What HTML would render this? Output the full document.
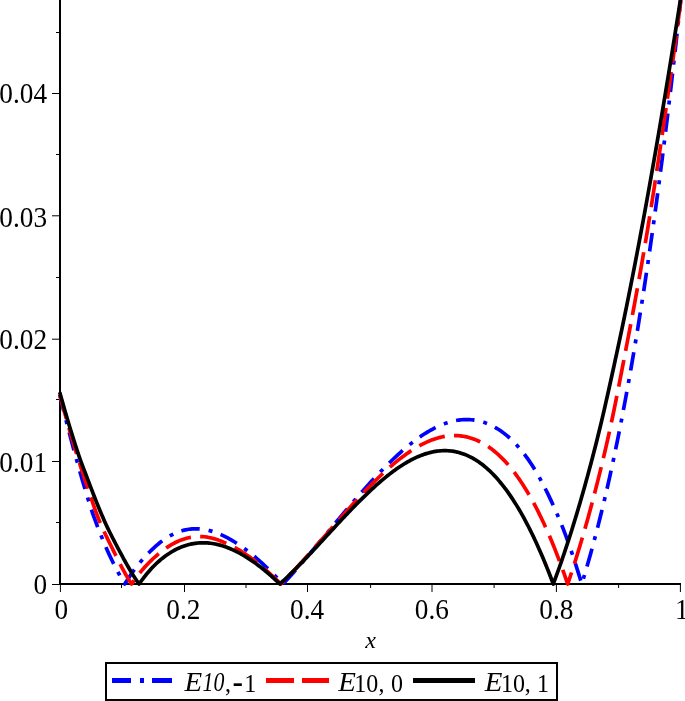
<!DOCTYPE html>
<html><head><meta charset="utf-8"><title>plot</title><style>html,body{margin:0;padding:0;background:#fff}svg{display:block}.t{font-family:"Liberation Serif","Times New Roman",serif}</style></head><body>
<svg width="685" height="701" viewBox="0 0 685 701">
<rect width="685" height="701" fill="#fff"/>
<g stroke="#000" fill="none">
<line x1="60" y1="0" x2="60" y2="585" stroke-width="2"/>
<line x1="59" y1="584" x2="681" y2="584" stroke-width="2"/>
<path d="M60.40,585 v7 M121.50,585 v3 M184.50,585 v7 M246.00,585 v3 M307.50,585 v7 M370.60,585 v3 M432.00,585 v7 M494.10,585 v3 M556.40,585 v7 M618.60,585 v3 M680.40,585 v7 M59,584.50 h-7 M59,522.50 h-3 M59,461.50 h-7 M59,399.50 h-3 M59,339.20 h-7 M59,277.50 h-3 M59,215.80 h-7 M59,154.50 h-3 M59,93.50 h-7 M59,32.50 h-3" stroke-width="1"/>
</g>
<g fill="none" stroke-width="3.7" stroke-linejoin="round">
<path d="M59.78,394.92 L60.20,396.62 L61.73,402.85 L63.24,408.99 L64.75,415.03 L66.26,420.97 L67.75,426.82 L69.24,432.58 L70.73,438.24 L72.22,443.81 L73.70,449.29 L75.17,454.68 L76.63,459.97 L78.08,465.18 L79.52,470.29 L80.95,475.31 L82.38,480.25 L83.82,485.09 L85.25,489.85 L86.66,494.52 L88.07,499.11 L89.47,503.60 L90.89,508.01 L92.33,512.34 L93.81,516.58 L95.32,520.74 L96.85,524.81 L98.38,528.80 L99.92,532.71 L101.46,536.53 L102.99,540.28 L104.54,543.94 L106.08,547.52 L107.63,551.03 L109.17,554.45 L110.73,557.80 L112.29,561.07 L113.87,564.26 L115.46,567.37 L117.06,570.41 L118.66,573.37 L120.27,576.26 L121.88,579.07 L123.49,581.81 L124.80,584.00 L125.09,583.52 L126.71,580.92 L128.33,578.40 L129.97,575.94 L131.61,573.55 L133.26,571.23 L134.92,568.98 L136.58,566.79 L138.24,564.68 L139.90,562.62 L141.57,560.64 L143.23,558.72 L144.89,556.86 L146.55,555.08 L148.20,553.35 L149.84,551.69 L151.47,550.09 L153.09,548.56 L154.70,547.09 L156.30,545.68 L157.88,544.33 L159.45,543.04 L161.00,541.82 L162.55,540.65 L164.10,539.54 L165.65,538.49 L167.20,537.49 L168.75,536.55 L170.30,535.67 L171.85,534.84 L173.40,534.07 L174.96,533.35 L176.51,532.68 L178.06,532.07 L179.61,531.51 L181.16,531.01 L182.71,530.56 L184.26,530.16 L185.81,529.81 L187.36,529.51 L188.91,529.26 L190.46,529.07 L192.01,528.92 L193.56,528.83 L195.12,528.78 L196.67,528.78 L198.22,528.84 L199.77,528.94 L201.32,529.08 L202.87,529.27 L204.42,529.51 L205.97,529.79 L207.52,530.12 L209.07,530.49 L210.62,530.90 L212.17,531.35 L213.72,531.84 L215.27,532.37 L216.83,532.94 L218.38,533.55 L219.93,534.19 L221.48,534.87 L223.03,535.58 L224.58,536.33 L226.13,537.11 L227.68,537.93 L229.23,538.77 L230.78,539.65 L232.33,540.56 L233.88,541.50 L235.43,542.46 L236.99,543.45 L238.54,544.47 L240.09,545.52 L241.64,546.59 L243.19,547.69 L244.74,548.82 L246.29,549.98 L247.84,551.16 L249.39,552.37 L250.94,553.61 L252.49,554.87 L254.04,556.15 L255.59,557.46 L257.15,558.79 L258.70,560.15 L260.25,561.53 L261.80,562.93 L263.35,564.35 L264.90,565.79 L266.45,567.26 L268.00,568.74 L269.55,570.24 L271.10,571.76 L272.65,573.30 L274.20,574.86 L275.75,576.43 L277.31,578.02 L278.86,579.63 L280.41,581.25 L281.96,582.89 L283.00,584.00 L283.51,583.46 L285.06,581.79 L286.61,580.11 L288.16,578.42 L289.71,576.71 L291.26,574.99 L292.81,573.26 L294.36,571.52 L295.91,569.77 L297.46,568.00 L299.02,566.23 L300.57,564.45 L302.12,562.66 L303.67,560.86 L305.22,559.05 L306.77,557.24 L308.32,555.42 L309.87,553.59 L311.42,551.76 L312.97,549.92 L314.52,548.08 L316.07,546.23 L317.62,544.38 L319.18,542.52 L320.73,540.67 L322.28,538.81 L323.83,536.94 L325.38,535.08 L326.93,533.22 L328.48,531.35 L330.03,529.49 L331.58,527.62 L333.13,525.76 L334.68,523.90 L336.23,522.04 L337.78,520.18 L339.33,518.33 L340.89,516.48 L342.44,514.63 L343.99,512.79 L345.54,510.95 L347.09,509.12 L348.64,507.29 L350.19,505.47 L351.74,503.65 L353.29,501.84 L354.84,500.04 L356.39,498.25 L357.94,496.47 L359.49,494.69 L361.05,492.93 L362.60,491.17 L364.15,489.43 L365.70,487.69 L367.25,485.97 L368.80,484.26 L370.35,482.56 L371.90,480.87 L373.45,479.20 L375.00,477.54 L376.55,475.89 L378.10,474.26 L379.65,472.64 L381.21,471.04 L382.76,469.45 L384.31,467.88 L385.86,466.32 L387.41,464.77 L388.96,463.24 L390.51,461.73 L392.06,460.24 L393.61,458.76 L395.16,457.30 L396.71,455.86 L398.26,454.44 L399.81,453.03 L401.37,451.65 L402.92,450.29 L404.47,448.96 L406.02,447.64 L407.57,446.35 L409.12,445.08 L410.67,443.83 L412.22,442.61 L413.77,441.42 L415.32,440.25 L416.87,439.10 L418.42,437.99 L419.97,436.90 L421.52,435.84 L423.08,434.81 L424.63,433.81 L426.18,432.84 L427.73,431.90 L429.28,430.99 L430.83,430.11 L432.38,429.26 L433.93,428.44 L435.48,427.66 L437.03,426.90 L438.58,426.18 L440.13,425.49 L441.68,424.83 L443.24,424.21 L444.79,423.62 L446.34,423.07 L447.89,422.56 L449.44,422.09 L450.99,421.65 L452.54,421.25 L454.09,420.89 L455.64,420.57 L457.19,420.30 L458.74,420.06 L460.29,419.87 L461.84,419.73 L463.39,419.62 L464.95,419.56 L466.50,419.55 L468.05,419.58 L469.61,419.65 L471.17,419.76 L472.73,419.92 L474.29,420.13 L475.86,420.38 L477.42,420.67 L478.99,421.02 L480.56,421.41 L482.13,421.85 L483.70,422.34 L485.27,422.87 L486.84,423.46 L488.41,424.10 L489.98,424.79 L491.55,425.53 L493.12,426.32 L494.69,427.16 L496.26,428.06 L497.83,429.02 L499.40,430.02 L500.97,431.09 L502.54,432.21 L504.11,433.38 L505.68,434.62 L507.25,435.91 L508.81,437.26 L510.37,438.67 L511.94,440.14 L513.50,441.67 L515.06,443.26 L516.61,444.92 L518.17,446.63 L519.72,448.41 L521.27,450.26 L522.82,452.18 L524.37,454.19 L525.92,456.27 L527.48,458.43 L529.03,460.66 L530.58,462.97 L532.13,465.36 L533.68,467.83 L535.23,470.37 L536.78,472.98 L538.33,475.67 L539.88,478.44 L541.43,481.28 L542.98,484.19 L544.53,487.18 L546.08,490.24 L547.64,493.37 L549.19,496.57 L550.74,499.85 L552.29,503.20 L553.84,506.63 L555.39,510.12 L556.94,513.68 L558.49,517.32 L560.04,521.03 L561.59,524.81 L563.12,528.68 L564.65,532.63 L566.16,536.68 L567.66,540.81 L569.17,545.04 L570.66,549.35 L572.16,553.76 L573.66,558.26 L575.16,562.86 L576.67,567.55 L578.19,572.34 L579.71,577.23 L581.25,582.21 L581.80,584.00 L582.80,580.70 L584.36,575.51 L585.92,570.22 L587.48,564.83 L589.05,559.33 L590.62,553.73 L592.19,548.02 L593.76,542.20 L595.34,536.27 L596.91,530.24 L598.49,524.09 L600.07,517.82 L601.64,511.45 L603.22,504.96 L604.80,498.35 L606.37,491.62 L607.94,484.78 L609.51,477.81 L611.08,470.72 L612.65,463.51 L614.21,456.18 L615.77,448.72 L617.32,441.13 L618.87,433.41 L620.42,425.56 L621.97,417.58 L623.52,409.47 L625.07,401.23 L626.62,392.84 L628.17,384.32 L629.72,375.67 L631.27,366.87 L632.82,357.93 L634.37,348.84 L635.92,339.61 L637.47,330.24 L639.01,320.71 L640.56,311.04 L642.11,301.22 L643.66,291.24 L645.20,281.10 L646.75,270.81 L648.29,260.37 L649.84,249.76 L651.38,238.99 L652.93,228.06 L654.47,216.96 L656.01,205.70 L657.55,194.26 L659.09,182.66 L660.63,170.88 L662.17,158.93 L663.71,146.80 L665.25,134.50 L666.78,122.01 L668.32,109.35 L669.86,96.49 L671.39,83.46 L672.92,70.23 L674.45,56.82 L675.99,43.21 L677.52,29.41 L679.04,15.41 L680.57,1.22" stroke="#0000ff" stroke-dasharray="18.5 9 4 8.7" stroke-dashoffset="1.55"/>
<path d="M59.75,394.43 L60.20,396.12 L61.75,401.94 L63.30,407.67 L64.84,413.31 L66.39,418.87 L67.93,424.34 L69.47,429.73 L71.00,435.04 L72.54,440.26 L74.07,445.40 L75.60,450.46 L77.13,455.43 L78.66,460.32 L80.19,465.13 L81.71,469.86 L83.24,474.51 L84.76,479.08 L86.28,483.58 L87.78,487.99 L89.24,492.32 L90.66,496.58 L92.05,500.76 L93.43,504.86 L94.82,508.88 L96.24,512.83 L97.70,516.71 L99.22,520.51 L100.79,524.23 L102.40,527.88 L104.04,531.46 L105.69,534.97 L107.34,538.40 L108.99,541.76 L110.62,545.04 L112.21,548.26 L113.77,551.41 L115.30,554.48 L116.80,557.49 L118.27,560.43 L119.73,563.30 L121.18,566.10 L122.62,568.83 L124.06,571.49 L125.51,574.09 L126.97,576.63 L128.45,579.09 L129.95,581.49 L131.49,583.83 L131.60,584.00 L133.04,581.89 L134.62,579.68 L136.22,577.51 L137.83,575.41 L139.46,573.36 L141.10,571.37 L142.74,569.43 L144.40,567.56 L146.06,565.74 L147.72,563.97 L149.38,562.27 L151.05,560.62 L152.71,559.03 L154.36,557.50 L156.01,556.02 L157.65,554.61 L159.28,553.25 L160.90,551.95 L162.50,550.71 L164.08,549.52 L165.65,548.40 L167.20,547.33 L168.75,546.31 L170.30,545.34 L171.85,544.43 L173.40,543.57 L174.96,542.76 L176.51,541.99 L178.06,541.28 L179.61,540.62 L181.16,540.01 L182.71,539.45 L184.26,538.94 L185.81,538.48 L187.36,538.07 L188.91,537.71 L190.46,537.39 L192.01,537.13 L193.56,536.91 L195.12,536.74 L196.67,536.62 L198.22,536.55 L199.77,536.52 L201.32,536.55 L202.87,536.63 L204.42,536.77 L205.97,536.96 L207.52,537.20 L209.07,537.49 L210.62,537.82 L212.17,538.20 L213.72,538.63 L215.27,539.09 L216.83,539.59 L218.38,540.12 L219.93,540.70 L221.48,541.30 L223.03,541.93 L224.58,542.59 L226.13,543.28 L227.68,543.99 L229.23,544.72 L230.78,545.47 L232.33,546.26 L233.88,547.07 L235.43,547.92 L236.99,548.79 L238.54,549.70 L240.09,550.64 L241.64,551.60 L243.19,552.60 L244.74,553.62 L246.29,554.67 L247.84,555.74 L249.39,556.85 L250.94,557.97 L252.49,559.13 L254.04,560.31 L255.59,561.51 L257.15,562.73 L258.70,563.98 L260.25,565.25 L261.80,566.55 L263.35,567.86 L264.90,569.20 L266.45,570.56 L268.00,571.94 L269.55,573.33 L271.10,574.75 L272.65,576.18 L274.20,577.63 L275.75,579.10 L277.31,580.59 L278.86,582.09 L280.41,583.61 L280.80,584.00 L281.96,582.85 L283.51,581.30 L285.06,579.74 L286.61,578.16 L288.16,576.57 L289.71,574.96 L291.26,573.34 L292.81,571.70 L294.36,570.06 L295.91,568.40 L297.46,566.73 L299.02,565.06 L300.57,563.37 L302.12,561.67 L303.67,559.96 L305.22,558.25 L306.77,556.53 L308.32,554.80 L309.87,553.06 L311.42,551.32 L312.97,549.57 L314.52,547.82 L316.07,546.06 L317.62,544.29 L319.18,542.53 L320.73,540.76 L322.28,538.99 L323.83,537.21 L325.38,535.44 L326.93,533.66 L328.48,531.89 L330.03,530.11 L331.58,528.34 L333.13,526.56 L334.68,524.79 L336.23,523.02 L337.78,521.25 L339.33,519.49 L340.89,517.72 L342.44,515.97 L343.99,514.22 L345.54,512.47 L347.09,510.73 L348.64,509.00 L350.19,507.27 L351.74,505.55 L353.29,503.84 L354.84,502.14 L356.39,500.45 L357.94,498.76 L359.49,497.09 L361.05,495.43 L362.60,493.78 L364.15,492.14 L365.70,490.51 L367.25,488.89 L368.80,487.29 L370.35,485.71 L371.90,484.13 L373.45,482.58 L375.00,481.03 L376.55,479.51 L378.10,478.00 L379.65,476.51 L381.21,475.03 L382.76,473.58 L384.31,472.14 L385.86,470.72 L387.41,469.32 L388.96,467.94 L390.51,466.59 L392.06,465.25 L393.61,463.94 L395.16,462.64 L396.71,461.37 L398.26,460.13 L399.81,458.91 L401.37,457.71 L402.92,456.54 L404.47,455.39 L406.02,454.27 L407.57,453.18 L409.12,452.12 L410.67,451.08 L412.22,450.07 L413.77,449.09 L415.32,448.14 L416.87,447.21 L418.42,446.32 L419.97,445.46 L421.52,444.63 L423.08,443.84 L424.63,443.07 L426.18,442.34 L427.73,441.65 L429.28,440.98 L430.83,440.35 L432.38,439.76 L433.93,439.21 L435.48,438.69 L437.03,438.21 L438.58,437.77 L440.13,437.37 L441.68,437.00 L443.24,436.68 L444.79,436.39 L446.34,436.15 L447.89,435.95 L449.44,435.79 L450.99,435.67 L452.54,435.59 L454.09,435.56 L455.64,435.57 L457.19,435.62 L458.74,435.72 L460.29,435.86 L461.84,436.05 L463.39,436.28 L464.95,436.56 L466.50,436.88 L468.05,437.26 L469.60,437.68 L471.15,438.15 L472.70,438.66 L474.25,439.23 L475.80,439.84 L477.35,440.51 L478.90,441.23 L480.45,441.99 L482.00,442.81 L483.55,443.68 L485.11,444.60 L486.66,445.57 L488.21,446.60 L489.76,447.68 L491.31,448.82 L492.86,450.01 L494.41,451.25 L495.96,452.55 L497.51,453.91 L499.06,455.32 L500.61,456.79 L502.16,458.32 L503.71,459.91 L505.27,461.55 L506.82,463.26 L508.37,465.03 L509.92,466.86 L511.47,468.76 L513.02,470.71 L514.57,472.73 L516.12,474.81 L517.67,476.96 L519.22,479.17 L520.77,481.45 L522.32,483.79 L523.87,486.20 L525.42,488.67 L526.98,491.22 L528.53,493.83 L530.08,496.51 L531.63,499.26 L533.18,502.08 L534.73,504.97 L536.28,507.93 L537.83,510.96 L539.38,514.06 L540.93,517.24 L542.48,520.48 L544.03,523.80 L545.58,527.20 L547.14,530.67 L548.69,534.22 L550.24,537.84 L551.79,541.53 L553.34,545.31 L554.89,549.16 L556.44,553.09 L557.99,557.09 L559.54,561.18 L561.09,565.35 L562.64,569.59 L564.19,573.92 L565.74,578.33 L567.30,582.81 L567.70,584.00 L568.85,580.61 L570.40,575.96 L571.96,571.22 L573.52,566.40 L575.09,561.50 L576.65,556.51 L578.22,551.43 L579.79,546.27 L581.36,541.02 L582.93,535.68 L584.51,530.26 L586.08,524.75 L587.66,519.15 L589.23,513.46 L590.80,507.68 L592.38,501.81 L593.95,495.84 L595.52,489.79 L597.09,483.65 L598.66,477.41 L600.23,471.08 L601.79,464.65 L603.35,458.13 L604.91,451.52 L606.46,444.81 L608.01,438.00 L609.55,431.10 L611.06,424.10 L612.56,417.00 L614.04,409.80 L615.52,402.51 L617.00,395.11 L618.48,387.62 L619.96,380.02 L621.45,372.32 L622.96,364.53 L624.48,356.62 L626.02,348.62 L627.58,340.51 L629.16,332.30 L630.74,323.99 L632.33,315.57 L633.93,307.04 L635.53,298.41 L637.13,289.67 L638.74,280.82 L640.34,271.86 L641.93,262.80 L643.52,253.63 L645.10,244.34 L646.68,234.95 L648.23,225.44 L649.78,215.83 L651.34,206.10 L652.89,196.26 L654.44,186.31 L655.99,176.24 L657.54,166.06 L659.09,155.76 L660.64,145.35 L662.19,134.82 L663.74,124.17 L665.29,113.41 L666.84,102.53 L668.41,91.53 L670.00,80.41 L671.60,69.17 L673.21,57.81 L674.79,46.33 L676.35,34.73 L677.88,23.01 L679.40,11.16 L680.91,-0.81" stroke="#ff0000" stroke-dasharray="27.2 9.3" stroke-dashoffset="1.85"/>
<path d="M59.73,392.36 L60.20,394.05 L61.75,399.60 L63.30,405.08 L64.85,410.48 L66.40,415.80 L67.95,421.05 L69.50,426.22 L71.06,431.31 L72.61,436.32 L74.16,441.26 L75.71,446.12 L77.26,450.91 L78.85,455.62 L80.50,460.26 L82.18,464.82 L83.88,469.31 L85.57,473.73 L87.25,478.08 L88.88,482.35 L90.47,486.55 L92.04,490.68 L93.60,494.73 L95.16,498.72 L96.72,502.63 L98.27,506.48 L99.83,510.25 L101.39,513.96 L102.96,517.59 L104.53,521.16 L106.12,524.66 L107.73,528.09 L109.36,531.46 L111.01,534.76 L112.65,537.99 L114.28,541.15 L115.91,544.25 L117.51,547.28 L119.08,550.25 L120.62,553.16 L122.14,555.99 L123.65,558.77 L125.15,561.48 L126.63,564.13 L128.11,566.72 L129.58,569.24 L131.04,571.70 L132.51,574.10 L133.98,576.44 L135.45,578.72 L136.93,580.94 L138.41,583.10 L139.05,584.00 L139.91,582.81 L141.40,580.77 L142.89,578.78 L144.38,576.86 L145.87,575.00 L147.35,573.19 L148.85,571.44 L150.34,569.74 L151.84,568.11 L153.35,566.52 L154.86,565.00 L156.38,563.53 L157.91,562.11 L159.45,560.75 L161.00,559.44 L162.55,558.18 L164.10,556.98 L165.65,555.82 L167.20,554.73 L168.75,553.68 L170.30,552.68 L171.85,551.74 L173.40,550.84 L174.96,549.99 L176.51,549.20 L178.06,548.45 L179.61,547.75 L181.16,547.10 L182.71,546.50 L184.26,545.94 L185.81,545.43 L187.36,544.97 L188.91,544.55 L190.46,544.18 L192.01,543.85 L193.56,543.57 L195.12,543.33 L196.67,543.14 L198.22,542.98 L199.77,542.87 L201.32,542.81 L202.87,542.78 L204.42,542.80 L205.97,542.86 L207.52,542.95 L209.07,543.09 L210.62,543.27 L212.17,543.48 L213.72,543.74 L215.27,544.03 L216.83,544.36 L218.38,544.72 L219.93,545.13 L221.48,545.56 L223.03,546.04 L224.58,546.55 L226.13,547.09 L227.68,547.67 L229.23,548.28 L230.78,548.93 L232.33,549.61 L233.88,550.32 L235.43,551.06 L236.99,551.83 L238.54,552.64 L240.09,553.47 L241.64,554.34 L243.19,555.23 L244.74,556.15 L246.29,557.10 L247.84,558.08 L249.39,559.08 L250.94,560.11 L252.49,561.17 L254.04,562.26 L255.59,563.36 L257.15,564.50 L258.70,565.66 L260.25,566.84 L261.79,568.04 L263.32,569.27 L264.84,570.52 L266.35,571.79 L267.86,573.08 L269.37,574.39 L270.87,575.72 L272.38,577.07 L273.89,578.44 L275.41,579.83 L276.93,581.24 L278.46,582.66 L279.90,584.00 L280.01,583.90 L281.56,582.44 L283.12,580.97 L284.69,579.49 L286.26,577.98 L287.83,576.47 L289.41,574.94 L290.98,573.40 L292.57,571.84 L294.15,570.27 L295.73,568.70 L297.31,567.11 L298.89,565.51 L300.47,563.90 L302.05,562.28 L303.62,560.66 L305.19,559.02 L306.76,557.38 L308.32,555.73 L309.87,554.08 L311.42,552.42 L312.97,550.75 L314.52,549.08 L316.07,547.41 L317.62,545.73 L319.18,544.05 L320.73,542.36 L322.28,540.68 L323.83,538.99 L325.38,537.30 L326.93,535.62 L328.48,533.93 L330.03,532.24 L331.58,530.56 L333.13,528.88 L334.68,527.20 L336.23,525.52 L337.78,523.85 L339.33,522.18 L340.89,520.52 L342.44,518.86 L343.99,517.21 L345.54,515.56 L347.09,513.93 L348.64,512.30 L350.19,510.68 L351.74,509.06 L353.29,507.46 L354.84,505.87 L356.39,504.29 L357.94,502.72 L359.49,501.16 L361.05,499.62 L362.60,498.08 L364.15,496.56 L365.70,495.06 L367.25,493.57 L368.80,492.10 L370.35,490.64 L371.90,489.20 L373.45,487.77 L375.00,486.36 L376.55,484.97 L378.10,483.60 L379.65,482.25 L381.21,480.92 L382.76,479.61 L384.31,478.33 L385.86,477.06 L387.41,475.81 L388.96,474.59 L390.51,473.39 L392.06,472.22 L393.61,471.07 L395.16,469.95 L396.71,468.85 L398.26,467.78 L399.81,466.73 L401.37,465.71 L402.92,464.72 L404.47,463.76 L406.02,462.83 L407.57,461.93 L409.12,461.05 L410.67,460.21 L412.22,459.40 L413.77,458.63 L415.32,457.88 L416.87,457.17 L418.42,456.49 L419.97,455.85 L421.52,455.24 L423.08,454.66 L424.63,454.12 L426.18,453.62 L427.73,453.16 L429.28,452.73 L430.83,452.34 L432.38,451.99 L433.93,451.68 L435.48,451.41 L437.03,451.18 L438.58,450.99 L440.13,450.84 L441.68,450.73 L443.24,450.67 L444.79,450.65 L446.34,450.67 L447.89,450.73 L449.44,450.84 L450.99,451.00 L452.54,451.20 L454.09,451.44 L455.64,451.74 L457.19,452.08 L458.74,452.47 L460.29,452.90 L461.84,453.39 L463.39,453.92 L464.95,454.50 L466.50,455.14 L468.05,455.82 L469.60,456.55 L471.15,457.34 L472.70,458.18 L474.25,459.07 L475.80,460.01 L477.35,461.01 L478.90,462.06 L480.45,463.17 L482.00,464.33 L483.55,465.54 L485.11,466.82 L486.66,468.14 L488.21,469.53 L489.76,470.97 L491.31,472.47 L492.86,474.03 L494.41,475.64 L495.96,477.32 L497.51,479.05 L499.06,480.84 L500.61,482.70 L502.16,484.61 L503.71,486.58 L505.27,488.62 L506.82,490.72 L508.37,492.88 L509.92,495.10 L511.47,497.38 L513.02,499.73 L514.57,502.14 L516.12,504.62 L517.67,507.16 L519.22,509.76 L520.77,512.43 L522.32,515.17 L523.87,517.97 L525.42,520.84 L526.98,523.77 L528.53,526.77 L530.08,529.84 L531.63,532.98 L533.18,536.18 L534.73,539.45 L536.28,542.79 L537.83,546.19 L539.38,549.67 L540.93,553.22 L542.48,556.83 L544.03,560.52 L545.58,564.27 L547.14,568.10 L548.69,571.99 L550.24,575.96 L551.79,579.99 L553.30,584.00 L553.34,583.90 L554.89,579.72 L556.45,575.47 L558.00,571.14 L559.56,566.75 L561.13,562.28 L562.69,557.74 L564.26,553.13 L565.82,548.44 L567.39,543.69 L568.96,538.85 L570.54,533.95 L572.11,528.97 L573.68,523.92 L575.25,518.80 L576.82,513.60 L578.40,508.32 L579.97,502.98 L581.54,497.56 L583.11,492.06 L584.68,486.49 L586.24,480.85 L587.81,475.13 L589.37,469.34 L590.94,463.47 L592.50,457.53 L594.05,451.52 L595.61,445.42 L597.16,439.26 L598.70,433.02 L600.23,426.71 L601.76,420.32 L603.27,413.85 L604.78,407.32 L606.29,400.70 L607.80,394.02 L609.30,387.26 L610.81,380.42 L612.33,373.51 L613.85,366.53 L615.38,359.47 L616.92,352.34 L618.47,345.14 L620.02,337.86 L621.57,330.51 L623.12,323.08 L624.67,315.58 L626.22,308.01 L627.77,300.37 L629.33,292.65 L630.88,284.86 L632.43,277.00 L633.98,269.07 L635.53,261.06 L637.08,252.99 L638.63,244.84 L640.18,236.62 L641.73,228.33 L643.28,219.98 L644.83,211.55 L646.38,203.05 L647.93,194.48 L649.49,185.84 L651.04,177.14 L652.59,168.37 L654.14,159.53 L655.69,150.62 L657.24,141.64 L658.79,132.60 L660.34,123.49 L661.89,114.32 L663.44,105.08 L664.99,95.78 L666.54,86.41 L668.09,76.98 L669.64,67.49 L671.20,57.93 L672.75,48.31 L674.30,38.63 L675.85,28.89 L677.40,19.08 L678.95,9.22 L680.50,-0.70" stroke="#000"/>
</g>
<g class="t" font-size="27.3" fill="#000">
<text transform="translate(61.30,619.4) scale(0.94,1)" font-size="29" text-anchor="middle">0</text>
<text transform="translate(183.30,619.4) scale(0.94,1)" font-size="29" text-anchor="middle">0.2</text>
<text transform="translate(307.10,619.4) scale(0.94,1)" font-size="29" text-anchor="middle">0.4</text>
<text transform="translate(431.90,619.4) scale(0.94,1)" font-size="29" text-anchor="middle">0.6</text>
<text transform="translate(556.30,619.4) scale(0.94,1)" font-size="29" text-anchor="middle">0.8</text>
<text transform="translate(681.90,619.4) scale(0.94,1)" font-size="29" text-anchor="middle">1</text>
<text transform="translate(47.0,593.75) scale(0.94,1)" font-size="29" text-anchor="end">0</text>
<text transform="translate(47.0,471.50) scale(0.94,1)" font-size="29" text-anchor="end">0.01</text>
<text transform="translate(47.0,349.10) scale(0.94,1)" font-size="29" text-anchor="end">0.02</text>
<text transform="translate(47.0,226.70) scale(0.94,1)" font-size="29" text-anchor="end">0.03</text>
<text transform="translate(47.0,102.60) scale(0.94,1)" font-size="29" text-anchor="end">0.04</text>
<text x="370.6" y="648" text-anchor="middle" font-style="italic" font-size="24">x</text>
<rect x="106" y="663" width="451" height="37" fill="none" stroke="#000" stroke-width="2"/>
<path d="M112,680.5 H131 M140,680.5 H144 M152,680.5 H172" stroke="#0000ff" stroke-width="5" fill="none"/>
<path d="M266,680.5 H294 M302,680.5 H329" stroke="#ff0000" stroke-width="5" fill="none"/>
<path d="M413,680.5 H475" stroke="#000" stroke-width="5" fill="none"/>
<text transform="translate(184.6,691.4) scale(1.06,1)" font-style="italic">E</text>
<text transform="translate(202.5,691.4) scale(0.8,1)" font-style="italic">10</text>
<text transform="translate(225.0,691.5) scale(0.96,1)" font-size="25">,</text>
<text x="232.5" y="691.75" font-weight="bold" font-size="31.5">-</text>
<text transform="translate(244.2,691.5) scale(0.96,1)" font-size="25">1</text>
<text transform="translate(338.2,691.4) scale(1.06,1)" font-style="italic">E</text>
<text transform="translate(354.2,691.5) scale(0.96,1)" font-size="25">10</text>
<text transform="translate(378.4,691.5) scale(0.96,1)" font-size="25">,</text>
<text transform="translate(391.0,691.5) scale(0.96,1)" font-size="25">0</text>
<text transform="translate(484.7,691.4) scale(1.06,1)" font-style="italic">E</text>
<text transform="translate(501.1,691.5) scale(0.96,1)" font-size="25">10</text>
<text transform="translate(524.85,691.5) scale(0.96,1)" font-size="25">,</text>
<text transform="translate(536.9,691.5) scale(0.96,1)" font-size="25">1</text>
</g>
</svg>
</body></html>
